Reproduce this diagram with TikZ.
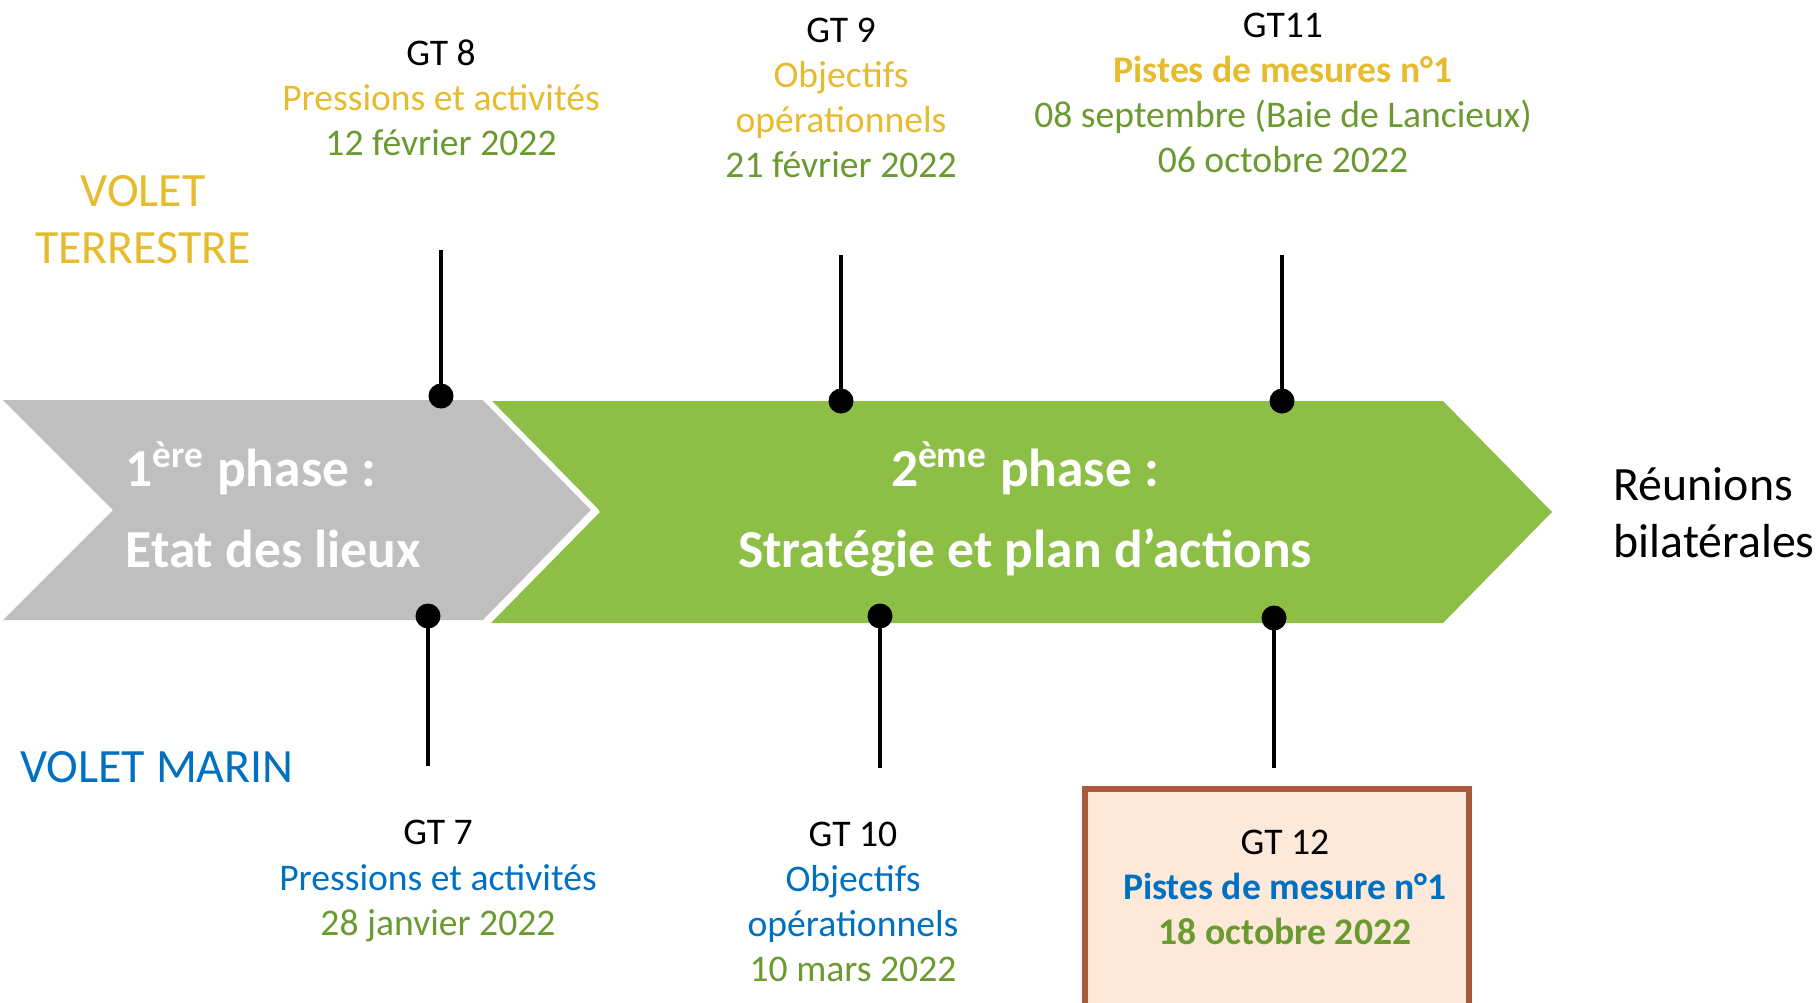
\documentclass[tikz,border=0pt]{standalone}
\usepackage{fontspec}
\setmainfont{Carlito}
\usepackage{xcolor}
\usepackage{tikz}
\usetikzlibrary{positioning,calc}
\definecolor{VoletJaune}{HTML}{E6BC2E}
\definecolor{VoletVert}{HTML}{6B9A31}
\definecolor{VoletBleu}{HTML}{0070C0}
\definecolor{PhaseGris}{HTML}{BFBFBF}
\definecolor{PhaseVert}{HTML}{8DBF47}
\definecolor{BoiteBord}{HTML}{A95A3A}
\definecolor{BoiteFond}{HTML}{FCE9DA}

\tikzset{
  gtlabel/.style={align=center,inner sep=0pt,font=\fontsize{10.7}{12.8}\selectfont},
  phasetxt/.style={text=white,inner sep=0pt,font=\fontsize{15.2}{23}\selectfont\bfseries},
  voletlabel/.style={inner sep=0pt,font=\fontsize{13.6}{16.2}\selectfont},
  jalon/.style={circle,fill=black,inner sep=0pt,minimum size=0.25cm},
  tige/.style={line width=1.2pt}
}

\begin{document}
\begin{tikzpicture}[x=0.01cm,y=-0.01cm]
  \useasboundingbox (0,0) rectangle (1820,1002);
  % fleches des phases
  \fill[PhaseVert] (491,401) -- (1443,401) -- (1552,512) -- (1443,623)
    -- (491,623) -- (600,512) -- cycle;
  \fill[PhaseGris] (3,400) -- (485,400) -- (595,510) -- (485,620)
    -- (3,620) -- (113,510) -- cycle;
  \draw[white,line width=1.6pt] (485,398) -- (595,510) -- (485,622);
  \node[phasetxt,anchor=base west] (p1a) at (125,486) {1\textsuperscript{ère} phase :};
  \node[phasetxt,anchor=base west] (p1b) at (125,567) {Etat des lieux};
  \node[phasetxt,anchor=base] (p2a) at (1025,486) {2\textsuperscript{ème} phase :};
  \node[phasetxt,anchor=base] (p2b) at (1025,567) {Stratégie et plan d’actions};

  % volets
  \node[voletlabel,text=VoletJaune,align=center] (terre) at (143,220) {VOLET\\TERRESTRE};
  \node[voletlabel,text=VoletBleu] (marin) at (157,767) {VOLET MARIN};
  \node[voletlabel,align=left,anchor=west] (bilat) at (1613,513) {Réunions\\bilatérales};

  % jalons du haut
  \node[gtlabel] (gt8) at (441,98) {GT 8\\\textcolor{VoletJaune}{Pressions et activités}\\\textcolor{VoletVert}{12 février 2022}};
  \node[gtlabel] (gt9) at (841,98) {GT 9\\\textcolor{VoletJaune}{Objectifs}\\\textcolor{VoletJaune}{opérationnels}\\\textcolor{VoletVert}{21 février 2022}};
  \node[gtlabel] (gt11) at (1283,93) {GT11\\\textcolor{VoletJaune}{\bfseries Pistes de mesures n°1}\\\textcolor{VoletVert}{08 septembre (Baie de Lancieux)}\\\textcolor{VoletVert}{06 octobre 2022}};
  \node[jalon] (d8) at (441,396) {};
  \node[jalon] (d9) at (841,401) {};
  \node[jalon] (d11) at (1282,401) {};
  \coordinate (t8) at (441,250);
  \coordinate (t9) at (841,255);
  \coordinate (t11) at (1282,255);
  \draw[tige] (t8) -- (d8.center);
  \draw[tige] (t9) -- (d9.center);
  \draw[tige] (t11) -- (d11.center);

  % jalons du bas
  \node[jalon] (d7) at (428,616) {};
  \node[jalon] (d10) at (880,616) {};
  \node[jalon] (d12) at (1274,618) {};
  \coordinate (b7) at (428,766);
  \coordinate (b10) at (880,768);
  \coordinate (b12) at (1274,768);
  \draw[tige] (d7.center) -- (b7);
  \draw[tige] (d10.center) -- (b10);
  \draw[tige] (d12.center) -- (b12);
  \node[gtlabel] (gt7) at (438,881) {GT 7\\\textcolor{VoletBleu}{Pressions et activités}\\\textcolor{VoletVert}{28 janvier 2022}};
  \node[gtlabel] (gt10) at (853,902) {GT 10\\\textcolor{VoletBleu}{Objectifs}\\\textcolor{VoletBleu}{opérationnels}\\\textcolor{VoletVert}{10 mars 2022}};
  \draw[BoiteBord,fill=BoiteFond,line width=1.5pt] (1085,789) rectangle (1469,1015);
  \node[gtlabel] (gt12) at (1285,887) {GT 12\\\textcolor{VoletBleu}{\bfseries Pistes de mesure n°1}\\\textcolor{VoletVert}{\bfseries 18 octobre 2022}};
\end{tikzpicture}
\end{document}
